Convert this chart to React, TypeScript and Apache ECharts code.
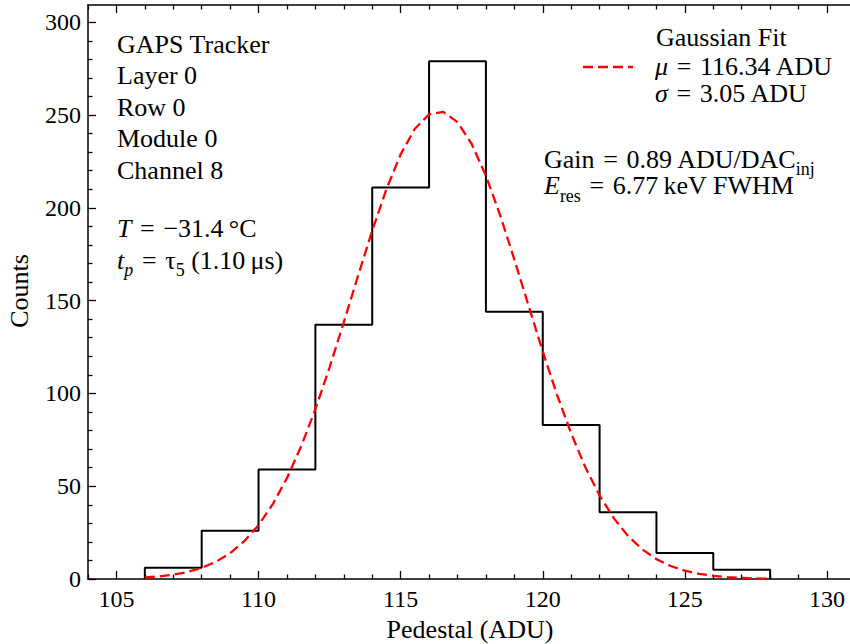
import React, { useEffect, useRef } from "react";
import * as echarts from "echarts";

// Histogram bins (ADU) and counts
const BIN_EDGES = [106, 108, 110, 112, 114, 116, 118, 120, 122, 124, 126, 128];
const COUNTS = [6, 26, 59, 137, 211, 279, 144, 83, 36, 14, 5];

// Gaussian fit curve
const FIT_X = [
  106, 106.5, 107, 107.5, 108, 108.5, 109, 109.5, 110, 110.5, 111, 111.5, 112, 112.5,
  113, 113.5, 114, 114.5, 115, 115.5, 116, 116.5, 117, 117.5, 118, 118.5, 119,
  119.5, 120, 120.5, 121, 121.5, 122, 122.5, 123, 123.5, 124, 124.5, 125, 125.5, 126,
  126.5, 127, 127.5, 128,
];
const FIT_Y = [
  0.8, 1.4, 2.3, 3.8, 6.0, 9.3, 13.9, 20.4, 29.0, 40.3, 54.4, 71.5, 91.5, 114.1,
  138.3, 163.3, 187.7, 210.1, 228.8, 242.6, 250.4, 251.7, 246.2, 234.4, 217.3, 196.1, 172.2,
  147.3, 122.6, 99.4, 78.4, 60.2, 45.0, 32.8, 23.2, 16.0, 10.7, 7.0, 4.5, 2.8, 1.7,
  1.0, 0.56, 0.3, 0.17,
];

// Axis ticks
const X_TICKS = [105, 110, 115, 120, 125, 130];
const X_MINOR = [104, 106, 107, 108, 109, 111, 112, 113, 114, 116, 117, 118, 119, 121, 122, 123, 124, 126, 127, 128, 129];
const Y_TICKS = [0, 50, 100, 150, 200, 250, 300];
const Y_MINOR = [10, 20, 30, 40, 60, 70, 80, 90, 110, 120, 130, 140, 160, 170, 180, 190, 210, 220, 230, 240, 260, 270, 280, 290];

const X_MIN = 104;
const X_MAX = 130.81;
const Y_MIN = 0;
const Y_MAX = 309.3;

const SERIF = '"Liberation Serif", "Times New Roman", serif';
const FS = 26;
const TICK_FS = 24;
const SUB_FS = 18;
const EQ = "\u2004=\u2004";

export default function App() {
  const ref = useRef<HTMLDivElement>(null);

  useEffect(() => {
    if (!ref.current) return;
    const chart = echarts.init(ref.current, undefined, { renderer: "svg" });

    const histData: number[][] = [];
    histData.push([BIN_EDGES[0], 0]);
    for (let i = 0; i < COUNTS.length; i++) {
      histData.push([BIN_EDGES[i], COUNTS[i]]);
      histData.push([BIN_EDGES[i + 1], COUNTS[i]]);
    }
    histData.push([BIN_EDGES[BIN_EDGES.length - 1], 0]);

    const fitData = FIT_X.map((x, i) => [x, FIT_Y[i]]);

    const lineC = { color: "#000", width: 1.3 };

    const rich: any = {
      n: { fontSize: FS, fontFamily: SERIF, fill: "#000", lineHeight: 40 },
      i: { fontSize: FS, fontFamily: SERIF, fontStyle: "italic", fill: "#000", lineHeight: 40 },
      s: { fontSize: SUB_FS, fontFamily: SERIF, fill: "#000", lineHeight: 18, padding: [21, 0, 0, 0], verticalAlign: "top" },
      si: { fontSize: SUB_FS, fontFamily: SERIF, fontStyle: "italic", fill: "#000", lineHeight: 18, padding: [21, 0, 0, 0], verticalAlign: "top" },
    };

    const txt = (x: number, y: number, text: string) => ({
      type: "text",
      x,
      y,
      style: {
        text,
        rich,
        fontSize: FS,
        fontFamily: SERIF,
        fill: "#000",
        align: "left",
        verticalAlign: "middle",
      },
    });

    const mkX = (position: string, ticks: number[], len: number, showLine: boolean, labels: boolean) => ({
      type: "value",
      position,
      min: X_MIN,
      max: X_MAX,
      axisLine: { show: showLine, onZero: false, lineStyle: { color: "#000", width: 1.5 } },
      axisTick: { show: true, inside: true, length: len, customValues: ticks, lineStyle: lineC },
      axisLabel: labels
        ? { show: true, customValues: X_TICKS, fontSize: TICK_FS, fontFamily: SERIF, color: "#000", margin: 8 }
        : { show: false },
      splitLine: { show: false },
    });
    const mkY = (position: string, ticks: number[], len: number, showLine: boolean, labels: boolean) => ({
      type: "value",
      position,
      min: Y_MIN,
      max: Y_MAX,
      axisLine: { show: showLine, onZero: false, lineStyle: { color: "#000", width: 1.5 } },
      axisTick: { show: true, inside: true, length: len, customValues: ticks, lineStyle: lineC },
      axisLabel: labels
        ? { show: true, customValues: Y_TICKS, fontSize: TICK_FS, fontFamily: SERIF, color: "#000", margin: 7 }
        : { show: false },
      splitLine: { show: false },
    });

    chart.setOption({
      animation: false,
      backgroundColor: "#fff",
      grid: { left: 88, top: 5, right: -2, bottom: 65, containLabel: false },
      xAxis: [
        mkX("bottom", X_TICKS, 8, true, true),
        mkX("bottom", X_MINOR, 4.5, false, false),
        mkX("top", X_TICKS, 8, true, false),
        mkX("top", X_MINOR, 4.5, false, false),
      ],
      yAxis: [
        mkY("left", Y_TICKS, 8, true, true),
        mkY("left", Y_MINOR, 4.5, false, false),
      ],
      series: [
        {
          type: "line",
          name: "hist",
          xAxisIndex: 0,
          yAxisIndex: 0,
          data: histData,
          showSymbol: false,
          symbol: "none",
          lineStyle: { color: "#000", width: 2 },
          z: 2,
        },
        {
          type: "line",
          name: "Gaussian Fit",
          xAxisIndex: 0,
          yAxisIndex: 0,
          data: fitData,
          showSymbol: false,
          symbol: "none",
          smooth: false,
          lineStyle: { color: "#ff0000", width: 2.3, type: [10, 5] },
          z: 3,
        },
      ],
      graphic: [
        txt(117, 44, "{n|GAPS Tracker}"),
        txt(117, 75.5, "{n|Layer 0}"),
        txt(117, 107, "{n|Row 0}"),
        txt(117, 138.5, "{n|Module 0}"),
        txt(117, 170, "{n|Channel 8}"),
        txt(117, 228, `{i|T}{n|${EQ}\u221231.4\u2009\u00b0C}`),
        txt(117, 260, `{i|t}{si|p}{n|${EQ}\u03c4}{s|5}{n| (1.10\u2009\u03bcs)}`),
        txt(656, 37, "{n|Gaussian Fit}"),
        txt(655, 66, `{i|\u03bc}{n|${EQ}116.34\u2009ADU}`),
        txt(655, 93, `{i|\u03c3}{n|${EQ}3.05\u2009ADU}`),
        txt(544, 159, `{n|Gain${EQ}0.89\u2009ADU/DAC}{s|inj}`),
        txt(544, 185.5, `{i|E}{s|res}{n|${EQ}6.77\u2009keV FWHM}`),
        {
          type: "line",
          shape: { x1: 583, y1: 67, x2: 633, y2: 67 },
          style: { stroke: "#ff0000", lineWidth: 2.3, lineDash: [10, 5] },
        },
        {
          type: "text",
          x: 19.5,
          y: 291,
          rotation: Math.PI / 2,
          style: { text: "Counts", fontSize: FS, fontFamily: SERIF, fill: "#000", align: "center", verticalAlign: "middle" },
        },
        {
          type: "text",
          x: 470,
          y: 629,
          style: { text: "Pedestal (ADU)", fontSize: FS, fontFamily: SERIF, fill: "#000", align: "center", verticalAlign: "middle" },
        },
      ],
    });

    return () => chart.dispose();
  }, []);

  return <div ref={ref} style={{ width: 850, height: 644, position: "absolute", left: 0, top: 0 }} />;
}
